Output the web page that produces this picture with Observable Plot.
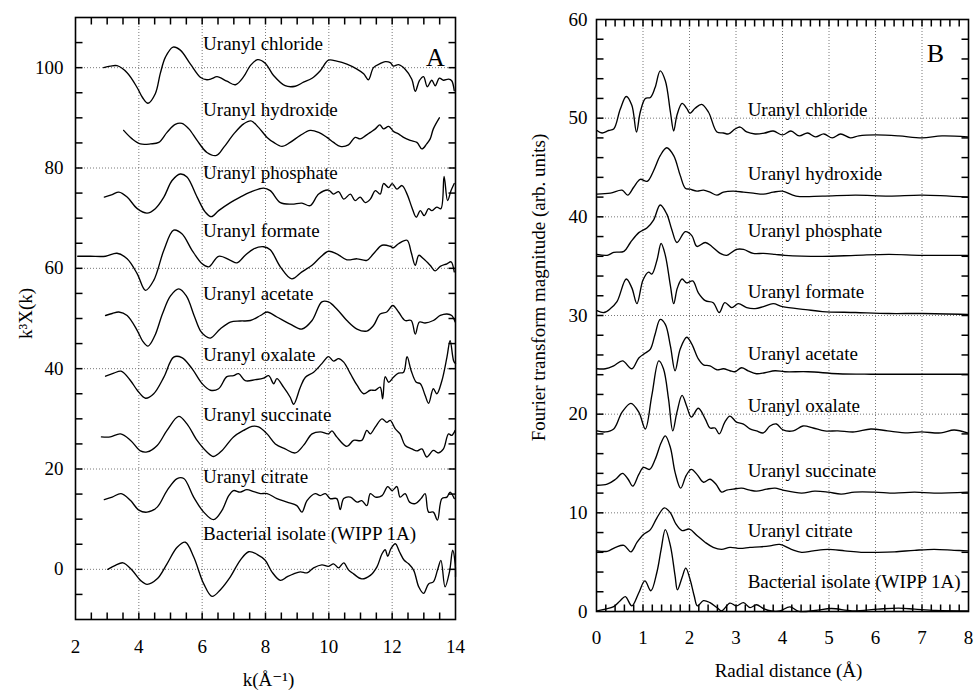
<!DOCTYPE html>
<html><head><meta charset="utf-8">
<script src="https://cdn.jsdelivr.net/npm/d3@7"></script>
<script src="https://cdn.jsdelivr.net/npm/@observablehq/plot@0.6"></script>
<style>
body{margin:0;background:#fff;}
#wrap{position:relative;width:976px;height:690px;background:#fff;}
#pa{position:absolute;left:0;top:0;}
#pb{position:absolute;left:490px;top:0;}
</style></head><body>
<div id="wrap"><div id="pa"></div><div id="pb"></div></div>
<script>
// ---------- names and label positions ----------
const names = ["Uranyl chloride","Uranyl hydroxide","Uranyl phosphate","Uranyl formate","Uranyl acetate","Uranyl oxalate","Uranyl succinate","Uranyl citrate","Bacterial isolate (WIPP 1A)"];
const labelYA = [104.8, 91.6, 79.0, 67.4, 54.9, 42.8, 30.8, 18.4, 7.1];
const labelXA = 6.03;
const labelYB = [50.8, 44.4, 38.6, 32.4, 26.1, 20.8, 14.3, 8.2, 3.0];
const labelXB = 3.25;

// ---------- Panel A: k^3 chi(k) [k, value] ----------
const chlorideA = [[2.89,100],[3.1,100.3],[3.31,100.4],[3.63,99],[3.95,96],[4.12,94],[4.29,92.9],[4.52,94.8],[4.68,98.9],[4.84,102.1],[5.08,104.1],[5.31,103.5],[5.63,100.7],[5.94,98.1],[6.15,97.6],[6.3,97.8],[6.47,98.2],[6.78,97.3],[7.05,96.6],[7.31,98.2],[7.52,100.4],[7.75,101.6],[7.99,100.9],[8.26,98.4],[8.62,96.4],[8.94,96.3],[9.2,97.1],[9.47,97.9],[9.73,99.4],[9.99,101.5],[10.25,101.3],[10.57,100.7],[10.89,99.7],[11.1,98.8],[11.25,97.6],[11.41,100],[11.62,100.8],[11.78,101.2],[11.94,101],[12.04,100.3],[12.2,100.6],[12.41,99.7],[12.62,97.7],[12.73,95.3],[12.86,97.4],[12.99,98.2],[13.11,96.2],[13.25,97.5],[13.36,96.4],[13.49,97.9],[13.62,97.5],[13.78,97.7],[13.88,97.4],[13.96,95.4]];
const hydroxideA = [[3.52,87.5],[3.79,85.8],[4.05,84.8],[4.37,84.8],[4.63,85.1],[4.89,87.1],[5.15,88.7],[5.36,88.9],[5.58,87.8],[5.84,85.5],[6.15,83.1],[6.45,82.5],[6.68,84.1],[7.0,86.8],[7.31,88.8],[7.54,89.4],[7.78,88.1],[8.05,86.1],[8.26,85.1],[8.52,84.3],[8.78,85.1],[9.1,86.5],[9.41,87.5],[9.68,87.1],[9.94,86.1],[10.15,85.1],[10.36,84.3],[10.62,84.6],[10.83,86.1],[10.99,85.8],[11.15,86.4],[11.31,87.1],[11.47,87.8],[11.61,88.6],[11.73,87.8],[11.89,88.3],[12.04,87.3],[12.2,86.8],[12.36,86.1],[12.57,85.5],[12.78,85.1],[12.94,83.8],[13.09,84.8],[13.2,85.8],[13.3,87.8],[13.49,90.0]];
const phosphateA = [[2.91,74.2],[3.16,74.7],[3.37,75.2],[3.63,74.2],[3.95,71.9],[4.26,71.0],[4.52,71.9],[4.79,74.2],[5.05,77.5],[5.31,78.8],[5.52,78.2],[5.84,74.2],[6.1,71.2],[6.29,70.3],[6.52,71.5],[6.89,73.1],[7.2,74.2],[7.52,75.2],[7.94,76.0],[8.15,75.5],[8.47,73.1],[8.83,72.8],[9.15,73.0],[9.41,72.5],[9.68,74.8],[9.99,75.6],[10.15,74.8],[10.31,75.3],[10.47,73.8],[10.68,74.8],[10.83,73.5],[10.99,74.2],[11.15,73.1],[11.31,73.8],[11.47,75.5],[11.62,74.8],[11.73,76.9],[11.89,76.1],[12.0,76.9],[12.15,75.8],[12.31,76.5],[12.47,74.8],[12.62,72.2],[12.76,70.2],[12.89,71.5],[13.01,70.5],[13.15,71.9],[13.25,71.5],[13.41,72.2],[13.54,71.9],[13.64,78.3],[13.75,73.5],[13.86,75.5],[13.96,76.9]];
const formateA = [[2.07,62.4],[2.47,62.4],[2.95,62.4],[3.31,63.0],[3.63,61.9],[3.95,58.9],[4.21,55.6],[4.47,57.6],[4.79,63.6],[5.1,67.6],[5.36,66.9],[5.68,63.6],[6.0,60.9],[6.21,60.3],[6.52,62.4],[6.89,61.6],[7.1,61.1],[7.36,62.6],[7.63,63.9],[7.94,64.3],[8.15,63.7],[8.47,60.3],[8.83,57.9],[9.15,59.3],[9.47,60.6],[9.73,62.2],[9.99,63.4],[10.25,62.9],[10.57,61.7],[10.89,61.9],[11.2,61.6],[11.41,62.9],[11.68,64.6],[11.94,64.4],[12.04,64.1],[12.2,64.9],[12.47,65.6],[12.6,63.2],[12.73,60.6],[12.84,62.6],[12.99,61.9],[13.2,60.6],[13.36,59.5],[13.52,60.4],[13.73,60.9],[13.86,61.3],[13.96,59.3]];
const acetateA = [[2.95,50.6],[3.16,51.0],[3.37,51.3],[3.63,50.6],[3.95,47.6],[4.12,45.5],[4.29,44.5],[4.5,46.5],[4.75,51],[5.0,54.5],[5.26,55.9],[5.5,54.5],[5.75,50.5],[5.94,47.6],[6.1,46.5],[6.26,46.1],[6.57,47.9],[6.89,49.3],[7.2,49.5],[7.52,49.6],[7.84,50.6],[8.05,51.3],[8.36,50.3],[8.78,48.9],[9.15,47.9],[9.47,49.6],[9.78,53.3],[9.99,53.3],[10.25,51.9],[10.57,49.6],[10.89,47.9],[11.2,47.5],[11.41,48.6],[11.62,50.9],[11.83,51.3],[12.02,52.6],[12.2,51.3],[12.41,49.6],[12.6,49.6],[12.73,46.9],[12.86,49.3],[13.04,49.1],[13.3,49.6],[13.52,50.6],[13.73,50.9],[13.88,50.6],[13.99,49.3]];
const oxalateA = [[2.95,38.5],[3.21,39.1],[3.44,39.5],[3.74,37.6],[3.95,35.7],[4.21,34.1],[4.47,35.0],[4.79,38.3],[5.1,42.3],[5.36,42.2],[5.68,40.0],[6.0,37.0],[6.26,35.7],[6.52,36.0],[6.78,38.4],[6.99,38.6],[7.15,39.0],[7.36,37.6],[7.68,37.8],[7.94,38.1],[8.1,38.6],[8.26,37.0],[8.36,38.0],[8.57,36.3],[8.78,34.3],[8.89,32.9],[9.1,36.3],[9.26,38.3],[9.52,39.3],[9.78,41.0],[9.99,42.4],[10.15,41.5],[10.31,42.0],[10.47,41.3],[10.68,39.0],[10.89,36.7],[11.1,35.0],[11.31,35.7],[11.47,35.7],[11.62,36.3],[11.7,34.0],[11.78,38.4],[11.89,37.3],[12.04,38.3],[12.2,39.1],[12.36,39.3],[12.47,42.4],[12.6,39.6],[12.76,37.3],[12.89,37.0],[13.04,34.7],[13.15,33.1],[13.3,36.0],[13.41,35.0],[13.57,37.6],[13.73,42.3],[13.83,45.6],[13.94,41.6],[14.0,41.0]];
const succinateA = [[2.82,26.4],[3.1,26.4],[3.42,27.0],[3.74,25.7],[4.05,23.6],[4.26,23.4],[4.58,24.7],[4.89,27.7],[5.26,30.5],[5.52,29.0],[5.84,25.7],[6.15,23.4],[6.36,22.5],[6.63,23.7],[6.99,26.4],[7.31,27.7],[7.57,28.5],[7.78,28.4],[8.05,27.0],[8.31,25.0],[8.62,24.0],[8.94,23.2],[9.2,24.7],[9.47,27.0],[9.73,27.4],[9.99,27.0],[10.1,27.6],[10.25,26.4],[10.57,24.5],[10.78,25.7],[11.04,25.7],[11.2,27.7],[11.31,27.0],[11.47,28.4],[11.68,30.0],[11.83,29.3],[11.94,29.7],[12.1,28.0],[12.25,27.0],[12.41,24.7],[12.62,24.0],[12.78,23.6],[12.94,24.0],[13.09,22.4],[13.3,23.7],[13.46,23.2],[13.62,24.0],[13.78,27.0],[13.88,26.7],[13.99,27.7]];
const citrateA = [[2.91,13.9],[3.16,14.4],[3.44,15.1],[3.74,13.7],[4.0,11.8],[4.26,11.4],[4.58,12.4],[4.89,15.7],[5.21,18.1],[5.42,18.1],[5.73,14.4],[6.05,11.4],[6.36,9.9],[6.63,11.8],[6.84,14.7],[6.99,15.7],[7.2,15.4],[7.41,15.9],[7.63,15.5],[7.84,15.1],[8.05,15.1],[8.36,14.1],[8.68,13.4],[8.99,12.7],[9.15,11.4],[9.31,13.7],[9.57,15.1],[9.73,14.7],[9.89,15.1],[10.04,14.1],[10.25,14.1],[10.36,11.9],[10.47,14.1],[10.68,14.4],[10.89,13.4],[11.04,13.7],[11.2,12.7],[11.31,15.1],[11.47,14.4],[11.68,14.7],[11.86,16.5],[12.0,15.7],[12.15,16.5],[12.25,14.4],[12.41,15.1],[12.55,13.4],[12.73,13.1],[12.91,14.1],[13.04,15.1],[13.15,11.4],[13.3,11.4],[13.43,9.8],[13.57,14.1],[13.73,14.4],[13.83,15.4],[13.96,14.1]];
const bacterialA = [[3.02,0],[3.26,0.8],[3.5,1.3],[3.79,-0.2],[4.05,-2.2],[4.26,-3.0],[4.58,-1.9],[4.89,1.1],[5.21,4.4],[5.47,5.4],[5.73,2.5],[6.05,-2.9],[6.31,-5.4],[6.57,-4.1],[6.89,-1.5],[7.2,1.8],[7.47,3.5],[7.73,3.0],[7.99,1.8],[8.2,-0.5],[8.47,-2.2],[8.68,-1.5],[8.89,-0.9],[9.1,-0.5],[9.31,-0.7],[9.52,0.3],[9.78,0.9],[9.99,0.6],[10.15,1.1],[10.31,0.3],[10.47,1.3],[10.62,-0.1],[10.78,-0.9],[11.04,-1.9],[11.31,-1.2],[11.52,0.5],[11.68,3.1],[11.78,3.9],[11.86,2.6],[11.96,4.1],[12.1,5.1],[12.23,3.5],[12.38,1.8],[12.52,1.1],[12.68,-0.2],[12.84,-3.5],[12.99,-4.8],[13.15,-2.9],[13.3,-2.5],[13.43,-0.2],[13.54,1.8],[13.67,-3.5],[13.81,-0.5],[13.91,3.8],[13.99,1.1],[14.0,-1.5]];

// ---------- Panel B: Fourier transform magnitude [R, value] ----------
const chlorideB = [[0.01,48.75],[0.12,48.5],[0.26,48.75],[0.37,48.9],[0.51,50.9],[0.64,52.2],[0.76,51.3],[0.86,48.6],[0.94,50.6],[1.05,52.0],[1.16,52.1],[1.26,53.1],[1.37,54.8],[1.48,53.8],[1.59,50.6],[1.66,48.7],[1.73,50.3],[1.84,51.5],[1.94,51.0],[2.01,50.5],[2.12,51.0],[2.26,51.4],[2.41,50.6],[2.59,48.6],[2.73,48.5],[2.84,48.4],[2.98,48.9],[3.09,49.1],[3.23,48.6],[3.41,48.4],[3.62,48.5],[3.8,48.7],[4.0,48.3],[4.18,48.7],[4.36,48.2],[4.54,48.5],[4.71,48.1],[4.89,48.4],[5.07,48.0],[5.25,48.4],[5.46,48.0],[5.64,48.2],[6.0,48.3],[6.5,48.2],[7.0,48.0],[7.43,48.2],[7.98,48.1]];
const hydroxideB = [[0.01,42.3],[0.3,42.4],[0.55,42.7],[0.67,42.2],[0.8,43.0],[0.94,43.8],[1.09,43.6],[1.23,44.7],[1.37,46.2],[1.51,47.0],[1.66,46.2],[1.8,44.2],[1.91,42.9],[2.01,42.8],[2.16,42.6],[2.3,42.7],[2.44,42.5],[2.59,42.2],[2.73,42.5],[2.94,42.6],[3.16,42.5],[3.37,42.4],[3.59,42.3],[3.8,42.5],[4.0,42.6],[4.29,42.1],[4.86,42.1],[5.57,42.2],[6.29,42.1],[7.0,42.2],[7.98,42.0]];
const phosphateB = [[0.01,36.2],[0.23,36.1],[0.37,36.4],[0.59,36.5],[0.73,37.4],[0.91,38.4],[1.09,38.9],[1.23,39.7],[1.37,41.2],[1.51,40.3],[1.62,38.7],[1.73,37.4],[1.91,38.5],[2.05,38.1],[2.16,37.0],[2.34,37.4],[2.48,37.0],[2.66,36.3],[2.8,36.1],[3.01,36.7],[3.16,36.7],[3.37,36.3],[3.59,36.3],[3.84,36.2],[4.05,36.1],[4.86,36.0],[5.57,36.1],[6.29,36.2],[7.0,36.1],[7.98,36.1]];
const formateB = [[0.01,30.5],[0.16,30.3],[0.3,30.7],[0.44,31.4],[0.64,33.7],[0.76,32.8],[0.87,31.2],[1.0,33.6],[1.12,34.4],[1.19,34.2],[1.3,35.6],[1.39,37.3],[1.48,36.1],[1.59,33.0],[1.66,31.2],[1.74,32.8],[1.84,33.7],[1.94,33.3],[2.07,33.5],[2.19,32.3],[2.34,31.5],[2.51,31.3],[2.64,30.3],[2.76,31.3],[2.91,30.8],[3.05,31.2],[3.23,30.8],[3.41,30.7],[3.59,30.9],[3.8,31.2],[4.0,30.9],[4.5,30.6],[4.86,30.4],[5.57,30.3],[6.29,30.2],[7.0,30.2],[7.98,30.1]];
const acetateB = [[0.01,24.6],[0.19,24.6],[0.37,24.9],[0.56,25.4],[0.76,24.6],[0.91,25.7],[1.05,26.2],[1.16,26.6],[1.26,28.1],[1.37,29.6],[1.48,29.1],[1.59,26.9],[1.69,24.4],[1.8,26.6],[1.94,27.8],[2.05,27.1],[2.19,25.6],[2.3,25.0],[2.44,24.9],[2.59,24.5],[2.73,24.6],[2.87,24.4],[2.98,24.3],[3.12,24.7],[3.26,24.4],[3.44,24.1],[3.62,24.2],[3.84,24.4],[4.05,24.3],[4.55,24.3],[5.19,24.1],[5.9,24.05],[6.62,24.05],[7.34,24.05],[7.98,24.05]];
const oxalateB = [[0.01,18.3],[0.19,18.2],[0.37,18.5],[0.55,20.2],[0.74,21.1],[0.91,20.2],[1.05,18.5],[1.19,21.9],[1.34,25.4],[1.44,24.6],[1.55,21.5],[1.64,18.3],[1.73,20.2],[1.84,21.9],[1.94,20.8],[2.04,19.7],[2.19,20.6],[2.34,19.5],[2.44,18.6],[2.55,18.6],[2.64,18.0],[2.76,19.2],[2.87,19.8],[3.01,19.2],[3.16,19.0],[3.3,18.5],[3.44,18.3],[3.59,18.1],[3.73,18.8],[3.87,19.0],[4.01,18.4],[4.23,18.3],[4.44,18.8],[4.66,18.6],[4.91,18.3],[5.19,18.3],[5.55,18.2],[5.9,18.5],[6.26,18.3],[6.69,18.1],[6.98,18.2],[7.41,18.1],[7.69,18.4],[7.98,18.1]];
const succinateB = [[0.01,12.8],[0.23,12.9],[0.41,13.4],[0.56,14.0],[0.68,13.4],[0.78,12.7],[0.91,13.9],[1.01,14.6],[1.14,14.4],[1.26,15.4],[1.39,17.1],[1.48,17.8],[1.59,16.6],[1.69,14.1],[1.81,12.5],[1.93,13.8],[2.04,14.4],[2.16,13.9],[2.3,13.1],[2.44,13.4],[2.57,12.9],[2.69,12.1],[2.8,12.3],[2.94,12.4],[3.12,12.5],[3.3,12.3],[3.44,12.2],[3.66,12.4],[3.84,12.5],[4.01,12.3],[4.41,12.0],[4.69,12.2],[4.98,12.1],[5.26,11.9],[5.55,12.1],[5.98,12.1],[6.41,12.0],[6.84,12.1],[7.26,12.0],[7.98,12.1]];
const citrateB = [[0.01,6.15],[0.23,6.1],[0.41,6.5],[0.59,6.7],[0.74,6.05],[0.87,7.0],[1.01,7.8],[1.16,8.3],[1.3,9.5],[1.46,10.5],[1.59,10.0],[1.71,8.85],[1.84,8.2],[2.0,8.35],[2.16,7.7],[2.34,7.0],[2.51,6.5],[2.69,6.3],[2.87,6.5],[3.09,6.4],[3.3,6.5],[3.51,6.55],[3.73,6.65],[3.94,6.8],[4.19,6.3],[4.41,6.0],[4.66,6.15],[4.98,6.3],[5.34,6.15],[5.69,6.0],[6.05,6.0],[6.41,6.05],[6.84,6.2],[7.26,6.3],[7.69,6.2],[7.98,6.15]];
const bacterialB = [[0.01,0.07],[0.19,0.24],[0.37,0.5],[0.51,1.1],[0.62,1.5],[0.76,0.57],[0.91,1.9],[1.04,3.1],[1.17,2.1],[1.3,4.0],[1.39,6.3],[1.48,8.3],[1.59,6.65],[1.69,3.6],[1.74,2.2],[1.84,3.45],[1.92,4.4],[2.01,3.3],[2.1,1.6],[2.17,0.57],[2.3,1.1],[2.44,0.9],[2.59,0.4],[2.69,0.07],[2.87,0.85],[3.01,0.57],[3.16,0.9],[3.3,0.4],[3.44,0.68],[3.59,0.3],[3.76,0.05],[3.94,0.05],[4.16,0.47],[4.35,0.02],[4.7,0.1],[5.05,0.3],[5.5,0.07],[6.05,0.24],[6.5,0.34],[6.84,0.24],[7.3,0.1],[7.98,0.07]];

// ---------- ticks ----------
const xTicksA = [2,4,6,8,10,12,14];
const yTicksA = [0,20,40,60,80,100];
const xTicksB = [0,1,2,3,4,5,6,7,8];
const yTicksB = [0,10,20,30,40,50,60];
const xMinorA = [2.5,3,3.5,4,4.5,5,5.5,6,6.5,7,7.5,8,8.5,9,9.5,10,10.5,11,11.5,12,12.5,13,13.5];
const yMinorA = [-5,0,5,10,15,20,25,30,35,40,45,50,55,60,65,70,75,80,85,90,95,100,105];
const xMinorB = [0.2,0.4,0.6,0.8,1,1.2,1.4,1.6,1.8,2,2.2,2.4,2.6,2.8,3,3.2,3.4,3.6,3.8,4,4.2,4.4,4.6,4.8,5,5.2,5.4,5.6,5.8,6,6.2,6.4,6.6,6.8,7,7.2,7.4,7.6,7.8];
const yMinorB = [2,4,6,8,10,12,14,16,18,20,22,24,26,28,30,32,34,36,38,40,42,44,46,48,50,52,54,56,58];

const FONT = "'Liberation Serif','Times New Roman','DejaVu Serif',serif";
const FS = 19;

function panel(o) {
  const rows = o.series.flatMap((s, i) => s.map(([x, y]) => ({name: names[i], x, y})));
  const [xa, xb] = o.xDomain, [ya, yb] = o.yDomain;
  const innerW = o.width - o.ml - o.mr;
  const innerH = o.height - o.mt - o.mb;
  const t = 7; // inward tick length in pixels
  const tx = (xb - xa) * t / innerW, ty = (yb - ya) * t / innerH;
  const bottomTicks = o.xMinor.map(v => ({x: v, a: ya, b: ya + ty}));
  const topTicks = o.xMinor.map(v => ({x: v, a: yb - ty, b: yb}));
  const leftTicks = o.yMinor.map(v => ({y: v, a: xa, b: xa + tx}));
  const rightTicks = o.yMinor.map(v => ({y: v, a: xb - tx, b: xb}));
  const ts = {stroke: "black", strokeWidth: 1.5};
  return Plot.plot({
    width: o.width, height: o.height,
    marginLeft: o.ml, marginRight: o.mr, marginTop: o.mt, marginBottom: o.mb,
    x: {domain: o.xDomain},
    y: {domain: o.yDomain},
    style: {fontFamily: FONT, fontSize: FS + "px", color: "black", background: "white", overflow: "visible"},
    marks: [
      Plot.ruleX(o.xGrid, {stroke: "#555", strokeWidth: 0.8, strokeDasharray: "1,2"}),
      Plot.ruleY(o.yGrid, {stroke: "#555", strokeWidth: 0.8, strokeDasharray: "1,2"}),
      Plot.line(rows, {x: "x", y: "y", z: "name", stroke: "black", strokeWidth: 1.35, curve: "catmull-rom"}),
      Plot.text(names, {x: names.map(() => o.labelX), y: o.labelY, text: d => d, textAnchor: "start", lineAnchor: "middle", fontSize: FS}),
      Plot.link(bottomTicks, {x1: "x", x2: "x", y1: "a", y2: "b", ...ts}),
      Plot.link(topTicks, {x1: "x", x2: "x", y1: "a", y2: "b", ...ts}),
      Plot.link(leftTicks, {y1: "y", y2: "y", x1: "a", x2: "b", ...ts}),
      Plot.link(rightTicks, {y1: "y", y2: "y", x1: "a", x2: "b", ...ts}),
      Plot.frame({stroke: "black", strokeWidth: 1.6}),
      Plot.axisX({ticks: o.xTicks, tickSize: 0, tickPadding: o.xPad, label: null, fontSize: FS}),
      Plot.axisY({ticks: o.yTicks, tickSize: 0, tickPadding: o.yPad, label: null, fontSize: FS}),
      Plot.text([o.xLabel], {text: d => d, frameAnchor: "bottom", dx: o.xLabelDx, dy: o.xLabelDy, lineAnchor: "middle", textAnchor: "middle", fontSize: FS}),
      Plot.text([o.yLabel], {text: d => d, frameAnchor: "left", rotate: -90, dx: o.yLabelDx, dy: o.yLabelDy, lineAnchor: "middle", textAnchor: "middle", fontSize: FS}),
      Plot.text([o.letter], {text: d => d, frameAnchor: "top-right", dx: o.letterDx, dy: o.letterDy, lineAnchor: "middle", textAnchor: "middle", fontSize: 26})
    ]
  });
}

const chartA = panel({
  width: 490, height: 690, ml: 75, mr: 35, mt: 17, mb: 71,
  xDomain: [2, 14], yDomain: [-10, 110],
  xTicks: xTicksA, yTicks: yTicksA,
  xMinor: xMinorA, yMinor: yMinorA,
  xGrid: [4,6,8,10,12], yGrid: [0,20,40,60,80,100],
  series: [chlorideA, hydroxideA, phosphateA, formateA, acetateA, oxalateA, succinateA, citrateA, bacterialA],
  labelX: labelXA, labelY: labelYA,
  xPad: 20, yPad: 12,
  xLabel: "k(Å⁻¹)", xLabelDx: 3, xLabelDy: 60,
  yLabel: "k³X(k)", yLabelDx: -50, yLabelDy: -5,
  letter: "A", letterDx: -20, letterDy: 40
});
const chartB = panel({
  width: 486, height: 690, ml: 106, mr: 8, mt: 19, mb: 79,
  xDomain: [0, 8], yDomain: [0, 60],
  xTicks: xTicksB, yTicks: yTicksB,
  xMinor: xMinorB, yMinor: yMinorB,
  xGrid: [1,2,3,4,5,6,7], yGrid: [10,20,30,40,50],
  series: [chlorideB, hydroxideB, phosphateB, formateB, acetateB, oxalateB, succinateB, citrateB, bacterialB],
  labelX: labelXB, labelY: labelYB,
  xPad: 19, yPad: 9,
  xLabel: "Radial distance (Å)", xLabelDx: 6, xLabelDy: 59,
  yLabel: "Fourier transform magnitude (arb. units)", yLabelDx: -58, yLabelDy: -28,
  letter: "B", letterDx: -33, letterDy: 34
});
document.getElementById("pa").appendChild(chartA);
document.getElementById("pb").appendChild(chartB);
</script>
</body></html>
